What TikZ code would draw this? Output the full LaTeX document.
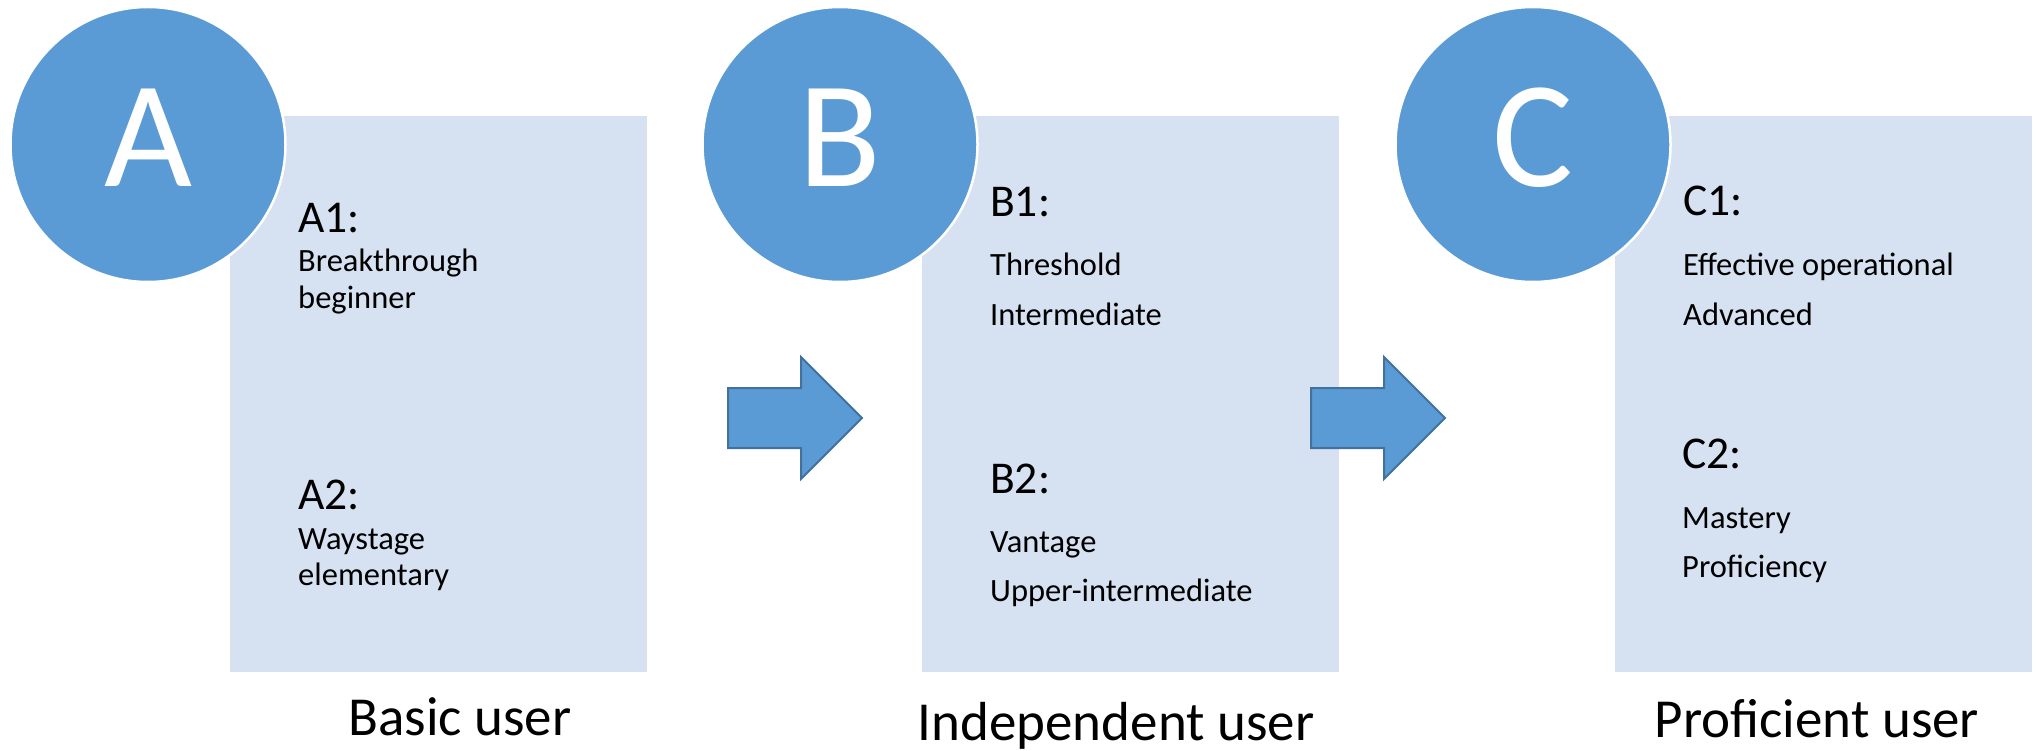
\documentclass[tikz,border=0pt]{standalone}
\usepackage{fontspec}
\setmainfont{Carlito}
\definecolor{circblue}{HTML}{5B9BD5}
\definecolor{arrowedge}{HTML}{41719C}
\definecolor{panelblue}{RGB}{214,225,241}
\begin{document}
\begin{tikzpicture}[x=1pt,y=-1pt,
  panel/.style={fill=panelblue,draw=none,minimum width=417pt,minimum height=556pt,anchor=north west,inner sep=0pt},
  badge/.style={circle,fill=circblue,draw=white,line width=2.5pt,minimum size=275pt,inner sep=0pt},
  bigletter/.style={text=white,font=\fontsize{152}{152}\selectfont,anchor=base,inner sep=0pt},
  levellabel/.style={font=\fontsize{45.5}{45.5}\selectfont,anchor=base west,inner sep=0pt},
  leveltext/.style={font=\fontsize{32.5}{32.5}\selectfont,anchor=base west,inner sep=0pt},
  userlabel/.style={font=\fontsize{55}{55}\selectfont,anchor=base,inner sep=0pt},
  blockarrow/.style={fill=circblue,draw=arrowedge,line width=2pt,line join=miter}
]
\useasboundingbox (0,0) rectangle (2039,751);
% panels
\node[panel] (pA) at (230,116) {};
\node[panel] (pB) at (922,116) {};
\node[panel] (pC) at (1615,116) {};
% circles
\node[badge] (cA) at (148,144.5) {};
\node[badge] (cB) at (840,144.5) {};
\node[badge] (cC) at (1533,144.5) {};
\node[bigletter] (lA) at (148.5,187) {A};
\node[bigletter] (lB) at (840,187) {B};
\node[bigletter] (lC) at (1533,187) {C};
% arrows
\draw[blockarrow] (728,388) -- (801,388) -- (801,357) -- (862,418) -- (801,479) -- (801,448) -- (728,448) -- cycle;
\draw[blockarrow] (1311,388) -- (1384,388) -- (1384,357) -- (1445,418) -- (1384,479) -- (1384,448) -- (1311,448) -- cycle;
% A texts
\node[levellabel] (a1) at (298,233) {A1:};
\node[leveltext] (a1t1) at (298,272) {Breakthrough};
\node[leveltext] (a1t2) at (298,308) {beginner};
\node[levellabel] (a2) at (298,509) {A2:};
\node[leveltext] (a2t1) at (298,549) {Waystage};
\node[leveltext] (a2t2) at (298,585) {elementary};
% B texts
\node[levellabel] (b1) at (990,217) {B1:};
\node[leveltext] (b1t1) at (990,276) {Threshold};
\node[leveltext] (b1t2) at (990,325) {Intermediate};
\node[levellabel] (b2) at (990,493) {B2:};
\node[leveltext] (b2t1) at (990,552) {Vantage};
\node[leveltext] (b2t2) at (990,601) {Upper-intermediate};
% C texts
\node[levellabel] (c1) at (1683,216) {C1:};
\node[leveltext] (c1t1) at (1683,276) {Effective operational};
\node[leveltext] (c1t2) at (1683,325) {Advanced};
\node[levellabel] (c2) at (1682,468) {C2:};
\node[leveltext] (c2t1) at (1682,528) {Mastery};
\node[leveltext] (c2t2) at (1682,577) {Proficiency};
% user labels
\node[userlabel] (uA) at (460,735) {Basic user};
\node[userlabel] (uB) at (1116,740) {Independent user};
\node[userlabel] (uC) at (1817,737) {Proficient user};
\end{tikzpicture}
\end{document}
